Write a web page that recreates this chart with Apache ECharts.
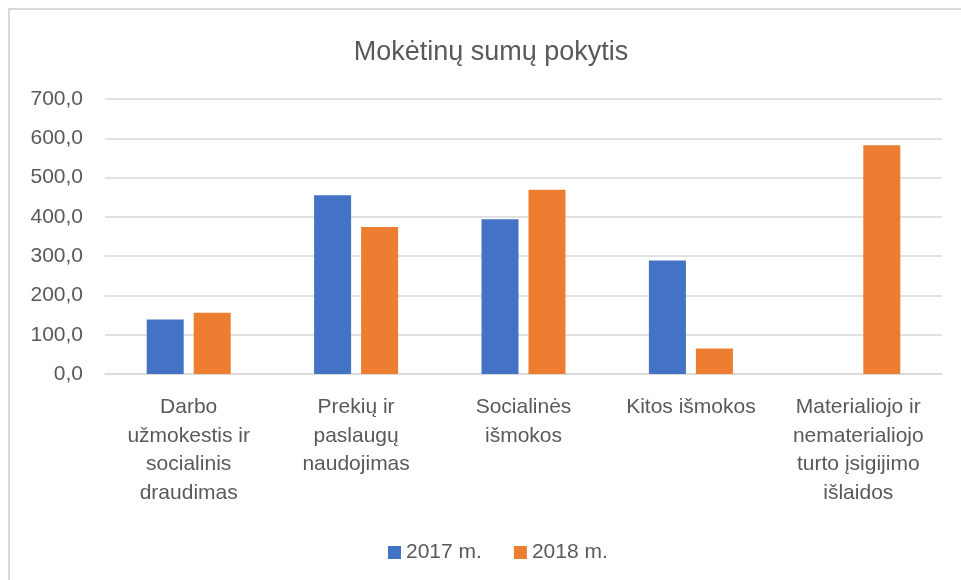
<!DOCTYPE html>
<html>
<head>
<meta charset="utf-8">
<script src="https://cdn.jsdelivr.net/npm/echarts@6/dist/echarts.min.js"></script>
<style>
  html, body { margin: 0; padding: 0; background: #fff; }
  #chart { width: 961px; height: 580px; }
</style>
</head>
<body>
<div id="chart"></div>
<script>
var categories = [
  'Darbo\nužmokestis ir\nsocialinis\ndraudimas',
  'Prekių ir\npaslaugų\nnaudojimas',
  'Socialinės\nišmokos',
  'Kitos išmokos',
  'Materialiojo ir\nnematerialiojo\nturto įsigijimo\nišlaidos'
];
var values2017 = [139, 455, 394, 289, null];
var values2018 = [156, 374, 469, 65, 582];
var seriesNames = ['2017 m.', '2018 m.'];

var font = "'Liberation Sans', Arial, sans-serif";
var textColor = '#595959';

var myChart = echarts.init(document.getElementById('chart'));

var option = {
  backgroundColor: '#fff',
  color: ['#4472C4', '#ED7D31'],
  textStyle: { fontFamily: font },
  graphic: [{
    type: 'rect',
    shape: { x: 9, y: 9, width: 1000, height: 1000 },
    style: { fill: 'none', stroke: '#d9d9d9', lineWidth: 2 },
    silent: true
  }],
  title: {
    text: 'Mokėtinų sumų pokytis',
    left: 486,
    textAlign: 'center',
    top: 34,
    textStyle: { fontSize: 27, fontWeight: 'normal', color: textColor, fontFamily: font }
  },
  legend: {
    data: seriesNames,
    top: 537,
    left: 383,
    icon: 'rect',
    itemWidth: 13,
    itemHeight: 13,
    itemGap: 32,
    textStyle: { fontSize: 21, color: textColor, fontFamily: font }
  },
  grid: { left: 105, right: 19, top: 99, bottom: 206, containLabel: false },
  xAxis: {
    type: 'category',
    data: categories,
    axisLine: { show: true, lineStyle: { color: '#d9d9d9', width: 1.5 } },
    axisTick: { show: false },
    axisLabel: {
      interval: 0,
      margin: 19,
      fontSize: 21,
      lineHeight: 28.5,
      color: textColor,
      fontFamily: font
    }
  },
  yAxis: {
    type: 'value',
    min: 0,
    max: 700,
    interval: 100,
    axisLine: { show: false },
    axisTick: { show: false },
    splitLine: { lineStyle: { color: '#d9d9d9', width: 1.5 } },
    axisLabel: {
      margin: 22,
      fontSize: 21,
      color: textColor,
      fontFamily: font,
      formatter: function (v) { return v.toFixed(1).replace('.', ','); }
    }
  },
  series: [
    { name: seriesNames[0], type: 'bar', data: values2017, barWidth: 37, barGap: '27%' },
    { name: seriesNames[1], type: 'bar', data: values2018, barWidth: 37, barGap: '27%' }
  ]
};
myChart.setOption(option);
</script>
</body>
</html>
